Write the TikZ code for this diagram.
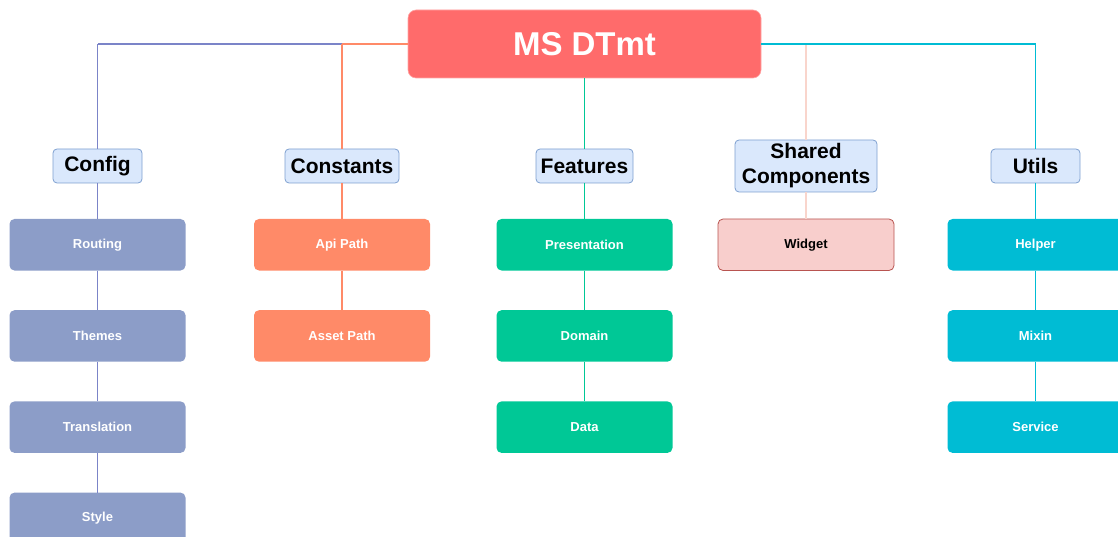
\documentclass[tikz,border=0pt]{standalone}
\usepackage{fontspec}
\setmainfont{Liberation Sans}
\usetikzlibrary{positioning}

\definecolor{rootred}{HTML}{FF6B6B}
\definecolor{catfill}{HTML}{DAE8FC}
\definecolor{catdraw}{HTML}{7EA0D0}
\definecolor{cfgcol}{HTML}{8C9DC8}
\definecolor{cfgline}{HTML}{7B84C8}
\definecolor{constcol}{HTML}{FF8A68}
\definecolor{featcol}{HTML}{00C896}
\definecolor{sharedfill}{HTML}{F8CECC}
\definecolor{shareddraw}{HTML}{B85450}
\definecolor{sharedline}{HTML}{F9D5CC}
\definecolor{utilcol}{HTML}{00BCD4}

\begin{document}
\begin{tikzpicture}[x=1pt,y=-1pt,node distance=39.7pt,line width=1.6pt,
  root node/.style={rectangle,rounded corners=8pt,fill=rootred,draw=rootred!60,line width=0.6pt,
    minimum width=353pt,minimum height=68pt,text=white,font=\fontsize{33}{36}\selectfont\bfseries},
  cat node/.style={rectangle,rounded corners=4pt,fill=catfill,draw=catdraw,line width=0.8pt,
    minimum height=34pt,inner sep=0pt,outer sep=0pt,font=\fontsize{21}{25}\selectfont\bfseries},
  leaf node/.style={rectangle,rounded corners=5pt,minimum width=176pt,minimum height=51.5pt,
    inner sep=0pt,outer sep=0pt,text=white,font=\fontsize{13}{15}\selectfont\bfseries}]

  \useasboundingbox (0,0) rectangle (1118,537);
  \clip (0,0) rectangle (1118,537);

  \node[root node] (root) at (584.5,44) {MS DTmt};

  \node[cat node,minimum width=89pt] (config) at (97.5,166) {Config};
  \node[cat node,minimum width=114pt] (consts) at (342,166) {Constants};
  \node[cat node,minimum width=97pt] (feats) at (584.5,166) {Features};
  \node[cat node,minimum width=142pt,minimum height=52pt,align=center] (shared) at (806,166) {Shared\\Components};
  \node[cat node,minimum width=89pt] (utils) at (1035.5,166) {Utils};

  % config
  \node[leaf node,fill=cfgcol] (routing) [below=36pt of config] {Routing};
  \node[leaf node,fill=cfgcol] (themes) [below=of routing] {Themes};
  \node[leaf node,fill=cfgcol] (transl) [below=of themes] {Translation};
  \node[leaf node,fill=cfgcol] (style) [below=of transl] {Style};

  % constants
  \node[leaf node,fill=constcol] (apipath) [below=36pt of consts] {Api Path};
  \node[leaf node,fill=constcol] (assetpath) [below=of apipath] {Asset Path};

  % features
  \node[leaf node,fill=featcol] (present) [below=36pt of feats] {Presentation};
  \node[leaf node,fill=featcol] (domain) [below=of present] {Domain};
  \node[leaf node,fill=featcol] (data) [below=of domain] {Data};

  % shared
  \node[leaf node,fill=sharedfill,draw=shareddraw,line width=0.8pt,text=black] (widget) [below=27pt of shared] {Widget};

  % utils
  \node[leaf node,fill=utilcol] (helper) [below=36pt of utils] {Helper};
  \node[leaf node,fill=utilcol] (mixin) [below=of helper] {Mixin};
  \node[leaf node,fill=utilcol] (service) [below=of mixin] {Service};

  \path[draw=cfgline]
    (root.west) edge (root.west -| config) (root.west -| config) edge (config.north)
    (config) edge (routing) (routing) edge (themes) (themes) edge (transl) (transl) edge (style);
  \path[draw=constcol]
    (root.west) edge (root.west -| consts) (root.west -| consts) edge (consts.north)
    (consts) edge (apipath) (apipath) edge (assetpath);
  \path[draw=featcol]
    (root) edge (feats) (feats) edge (present) (present) edge (domain) (domain) edge (data);
  \path[draw=sharedline]
    (root.east -| shared) edge (shared.north) (shared) edge (widget);
  \path[draw=utilcol]
    (root.east) edge (root.east -| utils) (root.east -| utils) edge (utils.north)
    (utils) edge (helper) (helper) edge (mixin) (mixin) edge (service);
\end{tikzpicture}
\end{document}
